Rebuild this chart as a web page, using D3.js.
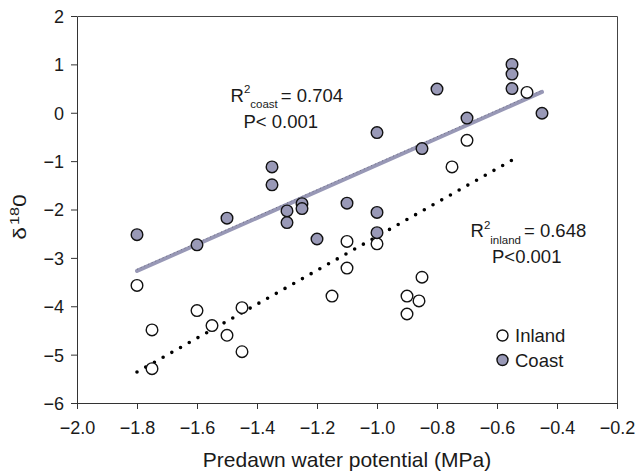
<!DOCTYPE html>
<html>
<head>
<meta charset="utf-8">
<script src="https://cdn.jsdelivr.net/npm/d3@7"></script>
<style>
  body { margin: 0; background: #fff; }
  svg text { font-family: "Liberation Sans", Arial, sans-serif; fill: #1a1a1a; }
  .axis path, .axis line { stroke: #333; }
</style>
</head>
<body>
<div id="canvas"></div>
<script>
// data: predawn water potential (MPa) vs d18O
var coastX = [-1.80, -1.60, -1.50, -1.35, -1.35, -1.30, -1.30, -1.25, -1.25, -1.20, -1.10,
              -1.00, -1.00, -1.00, -0.85, -0.80, -0.70, -0.55, -0.55, -0.55, -0.45];
var coastY = [-2.52, -2.73, -2.18, -1.12, -1.49, -2.03, -2.27, -1.88, -1.98, -2.61, -1.87,
              -0.41, -2.06, -2.48, -0.74, 0.49, -0.11, 1.00, 0.80, 0.50, -0.01];
var inlandX = [-1.80, -1.75, -1.75, -1.60, -1.55, -1.50, -1.45, -1.45, -1.15, -1.10,
               -1.10, -1.00, -0.85, -0.90, -0.86, -0.90, -0.70, -0.75, -0.50];
var inlandY = [-3.57, -4.49, -5.29, -4.09, -4.40, -4.60, -4.03, -4.94, -3.79, -2.66,
               -3.21, -2.71, -3.40, -3.79, -3.89, -4.16, -0.57, -1.12, 0.42];
// fitted lines as drawn (end points)
var coastFitX = [-1.80, -0.45], coastFitY = [-3.27, 0.43];
var inlandFitX = [-1.80, -0.53], inlandFitY = [-5.36, -0.91];

var xTicks = [-2.0, -1.8, -1.6, -1.4, -1.2, -1.0, -0.8, -0.6, -0.4, -0.2];
var yTicks = [-6, -5, -4, -3, -2, -1, 0, 1, 2];

var m = {t:16, r:21, b:69, l:77};
var outerWidth = 638, outerHeight = 472;
var w = outerWidth - m.l - m.r,
    h = outerHeight - m.t - m.b;

var svg = d3.select('#canvas')
    .append('svg')
    .attr('width', outerWidth)
    .attr('height', outerHeight);

var plot = svg.append('g')
    .attr('transform', 'translate(' + m.l + ',' + m.t + ')');

var scaleX = d3.scaleLinear().domain([-2.0, -0.2]).range([0, w]);
var scaleY = d3.scaleLinear().domain([-6, 2]).range([h, 0]);

// frame (top and right)
plot.append('path')
    .attr('d', 'M0.5,0.5H' + (w + 0.5) + 'V' + (h + 0.5))
    .attr('fill', 'none')
    .attr('stroke', '#444')
    .attr('stroke-width', 1);

var axisX = d3.axisBottom(scaleX)
    .tickValues(xTicks)
    .tickFormat(d3.format('.1f'))
    .tickSize(6)
    .tickSizeOuter(0)
    .tickPadding(6);

var axisY = d3.axisLeft(scaleY)
    .tickValues(yTicks)
    .tickFormat(d3.format('d'))
    .tickSize(6)
    .tickSizeOuter(0);

plot.append('g')
    .attr('class', 'axis axis-x')
    .attr('transform', 'translate(0,' + h + ')')
    .call(axisX)
    .selectAll('text')
    .style('font-size', '18px')
    .attr('y', 31)
    .attr('dy', 0);

plot.append('g')
    .attr('class', 'axis axis-y')
    .call(axisY)
    .selectAll('text')
    .style('font-size', '18px')
    .attr('x', -13)
    .attr('dy', '0.36em');

plot.selectAll('.domain').attr('stroke', '#333');

var line = d3.line()
    .x(function(d){ return scaleX(d[0]); })
    .y(function(d){ return scaleY(d[1]); });

var coastFit = d3.zip(coastFitX, coastFitY);
var inlandFit = d3.zip(inlandFitX, inlandFitY);

// coast regression: thick lavender line with fine dotted edge
plot.append('path')
    .datum(coastFit)
    .attr('d', line)
    .attr('fill', 'none')
    .attr('stroke', '#9898b6')
    .attr('stroke-width', 4)
    .attr('stroke-linecap', 'round');

plot.append('path')
    .datum(coastFit)
    .attr('d', line)
    .attr('transform', 'translate(0,-1.6)')
    .attr('fill', 'none')
    .attr('stroke', '#6c6c80')
    .attr('stroke-width', 1)
    .attr('stroke-dasharray', '1,3');

// inland regression: black dotted
plot.append('path')
    .datum(inlandFit)
    .attr('d', line)
    .attr('fill', 'none')
    .attr('stroke', '#000')
    .attr('stroke-width', 3.6)
    .attr('stroke-linecap', 'round')
    .attr('stroke-dasharray', '0,10');

var coast = d3.zip(coastX, coastY);
var inland = d3.zip(inlandX, inlandY);

plot.selectAll('.inland')
    .data(inland)
    .enter()
    .append('circle')
    .attr('class', 'inland')
    .attr('cx', function(d){ return scaleX(d[0]); })
    .attr('cy', function(d){ return scaleY(d[1]); })
    .attr('r', 5.8)
    .style('fill', '#fff')
    .style('stroke', '#111')
    .style('stroke-width', 1.4);

plot.selectAll('.coast')
    .data(coast)
    .enter()
    .append('circle')
    .attr('class', 'coast')
    .attr('cx', function(d){ return scaleX(d[0]); })
    .attr('cy', function(d){ return scaleY(d[1]); })
    .attr('r', 5.8)
    .style('fill', '#9999b7')
    .style('stroke', '#111')
    .style('stroke-width', 1.4);

// annotations
function rsq(x, y, sub, val){
    var t = svg.append('text').attr('x', x).attr('y', y).style('font-size', '18.5px');
    t.append('tspan').text('R');
    t.append('tspan').attr('dy', -8.4).style('font-size', '11.5px').text('2');
    t.append('tspan').attr('dy', 14.6).style('font-size', '11.5px').text(sub);
    t.append('tspan').attr('dx', 3).attr('dy', -6.2).text(val);
}
rsq(230.5, 101.5, 'coast', '= 0.704');
svg.append('text').attr('x', 243.5).attr('y', 127.8).style('font-size', '18.5px').text('P< 0.001');

rsq(470.5, 237.3, 'inland', '= 0.648');
svg.append('text').attr('x', 492).attr('y', 263).style('font-size', '18.5px').text('P<0.001');

// legend
var legend = svg.append('g').attr('transform', 'translate(502.5,335.5)');
var legendItems = [['Inland', '#fff'], ['Coast', '#9999b7']];
legendItems.forEach(function(d, i){
    legend.append('circle')
        .attr('cx', 0).attr('cy', i * 24.5)
        .attr('r', 5.5)
        .style('fill', d[1])
        .style('stroke', '#111')
        .style('stroke-width', 1.4);
    legend.append('text')
        .attr('x', 12.5).attr('y', i * 24.5 + 6.8)
        .style('font-size', '18.5px')
        .text(d[0]);
});

// axis titles
svg.append('text')
    .attr('x', 347)
    .attr('y', 467)
    .attr('text-anchor', 'middle')
    .style('font-size', '21px')
    .text('Predawn water potential (MPa)');

var yt = svg.append('text')
    .attr('transform', 'translate(25.5,217) rotate(-90) scale(1.3,1)')
    .attr('text-anchor', 'middle')
    .style('font-size', '17.5px');
yt.append('tspan').text('\u03b4');
yt.append('tspan').attr('dx', 1.5).attr('dy', -7).style('font-size', '12.5px').text('18');
yt.append('tspan').attr('dy', 7).text('0');
</script>
</body>
</html>
